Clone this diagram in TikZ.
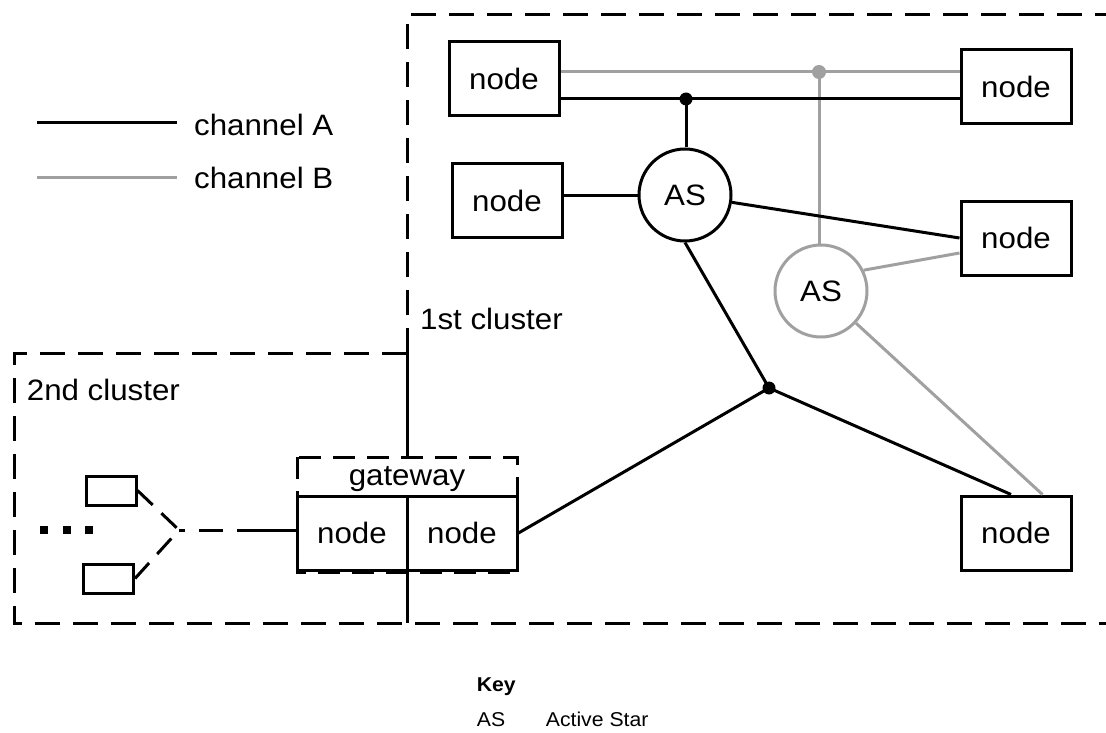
\documentclass[tikz,border=0pt]{standalone}
\usepackage{fontspec}
\setmainfont{Liberation Sans}[FakeStretch=1.06]
\usetikzlibrary{calc}
\definecolor{chB}{HTML}{A0A0A0}
\newcommand\dfont{\fontsize{29.5}{35}\selectfont}
\newcommand\kfont{\fontsize{20}{24}\selectfont}
\tikzset{
  box/.style={draw, line width=3pt, minimum width=110pt, minimum height=74pt, inner sep=0pt, font=\dfont},
  lineA/.style={line width=3pt, draw=black},
  lineB/.style={line width=3pt, draw=chB},
  clusterline/.style={line width=3pt, dash pattern=on 25pt off 13pt},
  star/.style={circle, draw, line width=3pt, minimum size=92pt, inner sep=0pt, font=\dfont},
  lbl/.style={inner sep=0pt, anchor=base west, font=\dfont},
  keytext/.style={inner sep=0pt, anchor=base west, font=\kfont},
  minibox/.style={draw, line width=3pt, minimum width=50pt, minimum height=29pt, inner sep=0pt},
}
\begin{document}
\begin{tikzpicture}[x=1pt,y=-1pt]
\useasboundingbox (0,0) rectangle (1106,733);

% cluster borders
\draw[clusterline] (407,353) -- (407,15) -- (1106,15);
\draw[clusterline] (407,353) -- (14,353) -- (14,623) -- (1106,623);
\draw[lineA] (407,353) -- (407,457);
\draw[lineA] (407,572) -- (407,623);

% gateway
\draw[line width=3pt, dash pattern=on 22pt off 12pt] (297,457) rectangle (517,572);
\node[lbl, anchor=base] (gwlabel) at (407,485.7) {gateway};
\node[box] (g1) at (352,533) {node};
\node[box] (g2) at (462,533) {node};

% nodes of 1st cluster
\node[box] (n1) at (504,79) {node};
\node[box] (n2) at (507,200.5) {node};
\node[box] (n4) at (1016,87) {node};
\node[box] (n3) at (1016,238) {node};
\node[box] (n5) at (1016,533) {node};
\node[star] (as1) at (685,195) {AS};
\node[star, draw=chB] (as2) at (821,291) {AS};

\coordinate (bdot) at (686,99);
\coordinate (gdot) at (819,72);
\coordinate (cdot) at (769,388);

% channel B
\draw[lineB] (n1.east |- gdot) -- (gdot) -- (n4.west |- gdot);
\draw[lineB] (gdot) -- (gdot |- as2.north);
\draw[lineB] (as2.26) -- ([yshift=-15pt]n3.west);
\draw[lineB] (as2) -- ([xshift=-30pt]n5.north east);

% channel A
\draw[lineA] (n1.east |- bdot) -- (bdot) -- (n4.west |- bdot);
\draw[lineA] (bdot) -- (bdot |- as1.north);
\draw[lineA] (as1.west -| n2.east) -- (as1.west);
\draw[lineA] (as1) -- (n3.west);
\draw[lineA] (as1.south) -- (cdot);
\draw[lineA] (g2.east) -- (cdot) -- ([xshift=-5pt]n5.north);

\fill (bdot) circle (6.5pt);
\fill[chB] (gdot) circle (7pt);
\fill (cdot) circle (6.5pt);

% 2nd cluster
\node[minibox] (b1) at (111,490.5) {};
\node[minibox] (b2) at (108.5,578.5) {};
\coordinate (fork) at (179,530);
\coordinate (sw) at (261,530);
\draw[lineA, dash pattern=on 21pt off 12pt] (b1.east) -- (fork);
\draw[lineA, dash pattern=on 21pt off 12pt] (b2.east) -- (fork);
\draw[lineA, dash pattern=on 24pt off 14pt] (sw) -- (fork);
\draw[lineA] ([yshift=3pt]g1.west) -- (sw);
\fill (40,526) rectangle (48,534);
\fill (63,526) rectangle (71,534);
\fill (85,526) rectangle (93,534);

% legend
\coordinate (la1) at (37,123);
\coordinate (la2) at (177,123);
\coordinate (lb1) at (37,178);
\coordinate (lb2) at (177,178);
\draw[lineA] (la1) -- (la2);
\draw[lineB] (lb1) -- (lb2);
\node[lbl] (legA) at (194,135.7) {channel A};
\node[lbl] (legB) at (194,189) {channel B};

% cluster labels
\node[lbl] (c1) at (420,329.3) {1st cluster};
\node[lbl] (c2) at (26.7,400) {2nd cluster};

% key
\node[keytext, font=\kfont\bfseries] (key) at (476.7,691.7) {Key};
\node[keytext] (keyas) at (476.7,726) {AS};
\node[keytext] (keydesc) at (545.7,726) {Active Star};
\end{tikzpicture}
\end{document}
